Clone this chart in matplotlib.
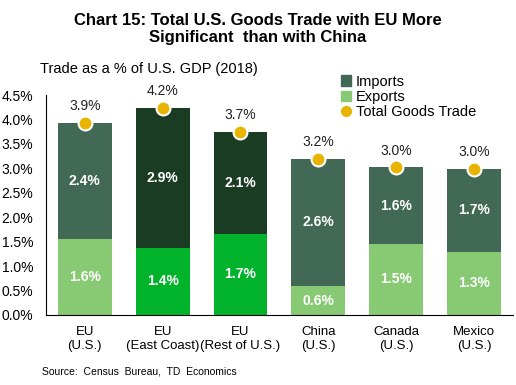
import matplotlib.pyplot as plt
from matplotlib.patches import Patch
from matplotlib.lines import Line2D
import numpy as np

plt.rcParams['font.family'] = ['Liberation Sans', 'DejaVu Sans']

categories = ['EU\n(U.S.)', 'EU\n(East Coast)', 'EU\n(Rest of U.S.)',
              'China\n(U.S.)', 'Canada\n(U.S.)', 'Mexico\n(U.S.)']
exports = [1.56, 1.38, 1.66, 0.59, 1.46, 1.29]
imports = [2.37, 2.86, 2.08, 2.61, 1.56, 1.70]
total = [e + i for e, i in zip(exports, imports)]

imp_col = ['#426956', '#1a3c23', '#1a3c23', '#426956', '#426956', '#426956']
exp_col = ['#88ca74', '#00b32b', '#00b32b', '#88ca74', '#88ca74', '#88ca74']
dot_col = '#e8b400'

fig = plt.figure(figsize=(5.16, 3.85), dpi=100)
ax = fig.add_axes([0.089, 0.182, 0.905, 0.571])

x = np.arange(len(categories))
w = 0.69
ax.bar(x, exports, w, color=exp_col, zorder=2)
ax.bar(x, imports, w, bottom=exports, color=imp_col, zorder=2)
ax.plot(x, total, 'o', color=dot_col, markersize=10, markeredgecolor='white',
        markeredgewidth=1.5, linestyle='none', zorder=3, clip_on=False)

for i in range(len(x)):
    ax.text(x[i], exports[i] / 2, f'{exports[i]:.1f}%', ha='center', va='center',
            color='white', fontsize=10, fontweight='bold')
    ax.text(x[i], exports[i] + imports[i] / 2, f'{imports[i]:.1f}%', ha='center', va='center',
            color='white', fontsize=10, fontweight='bold')
    ax.text(x[i], total[i] + 0.2, f'{total[i]:.1f}%', ha='center', va='bottom',
            color='#222222', fontsize=10)

ax.set_xlim(-0.5, 5.5)
ax.set_ylim(0, 4.5)
yt = np.arange(0, 4.51, 0.5)
ax.set_yticks(yt)
ax.set_yticklabels([f'{v:.1f}%' for v in yt], fontsize=10)
ax.set_xticks(x)
ax.set_xticklabels(categories, fontsize=9.5)
ax.tick_params(axis='y', length=0, pad=9)
ax.tick_params(axis='x', length=0, pad=8)
ax.spines['top'].set_visible(False)
ax.spines['right'].set_visible(False)

handles = [Patch(color='#426956'), Patch(color='#88ca74'),
           Line2D([], [], marker='o', color=dot_col, linestyle='none', markersize=7)]
ax.legend(handles, ['Imports', 'Exports', 'Total Goods Trade'], loc='upper left',
          bbox_to_anchor=(0.62, 1.12), frameon=False, fontsize=10.5,
          handlelength=0.7, handleheight=0.7, handletextpad=0.3,
          labelspacing=0.1, borderaxespad=0)

fig.text(0.5, 0.965, 'Chart 15: Total U.S. Goods Trade with EU More\nSignificant  than with China',
         ha='center', va='top', fontsize=12, fontweight='bold', linespacing=1.15)
fig.text(0.078, 0.81, 'Trade as a % of U.S. GDP (2018)', fontsize=10.5)
fig.text(0.082, 0.026, 'Source:  Census  Bureau,  TD  Economics', fontsize=7.5)

fig.savefig('out.png', dpi=100)
